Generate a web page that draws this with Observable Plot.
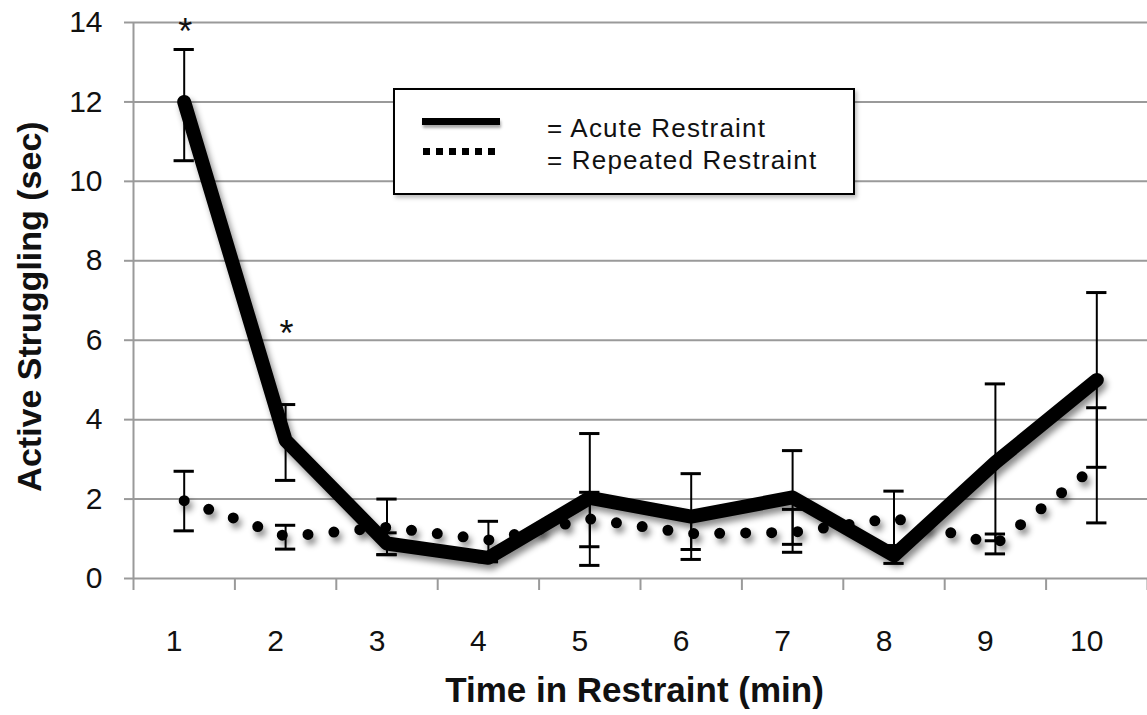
<!DOCTYPE html>
<html><head><meta charset="utf-8">
<script src="https://cdn.jsdelivr.net/npm/d3@7"></script>
<script src="https://cdn.jsdelivr.net/npm/@observablehq/plot@0.6"></script>
<style>
body{margin:0;background:#fff;}
#wrap{position:relative;width:1147px;height:715px;font-family:"Liberation Sans",Arial,sans-serif;}
#legend{position:absolute;left:393px;top:88px;width:458px;height:103px;border:2px solid #000;background:#fff;box-shadow:2px 3px 4px rgba(0,0,0,0.25);}
#legend .solid{position:absolute;left:27px;top:28px;width:78px;height:7px;background:#000;box-shadow:1px 3px 3px rgba(0,0,0,0.35);}
#legend .dots{position:absolute;left:28px;top:58px;width:74px;height:7px;background:repeating-linear-gradient(90deg,#000 0 7px,transparent 7px 13px);}
#legend .txt{position:absolute;left:152px;top:22px;font-size:26px;letter-spacing:1.2px;line-height:32px;color:#111;white-space:nowrap;}
</style></head>
<body>
<div id="wrap"><div id="chart"></div>
<div id="legend"><div class="solid"></div><div class="dots"></div>
<div class="txt"><div id="l1"></div><div id="l2"></div></div></div>
</div>
<script>
const minutes = [1,2,3,4,5,6,7,8,9,10];
const acute = [12.0,3.48,0.88,0.52,2.03,1.56,2.04,0.58,2.92,5.0];
const acuteLow = [10.52,2.47,0.6,0.42,0.33,0.48,0.86,0.38,0.95,2.8];
const acuteHigh = [13.32,4.38,1.15,0.62,3.65,2.64,3.22,0.8,4.9,7.2];
const repeated = [1.96,1.06,1.29,0.97,1.5,1.13,1.16,1.52,0.86,2.85];
const repeatedLow = [1.2,0.74,0.6,0.45,0.8,0.73,0.66,0.83,0.62,1.4];
const repeatedHigh = [2.7,1.34,2.0,1.44,2.17,1.52,1.74,2.2,1.12,4.3];
const yTicks = [0,2,4,6,8,10,12,14];
const starMinutes = [1,2];
const starValues = [13.75,6.15];
const seriesNames = ["= Acute Restraint","= Repeated Restraint"];
const xTitle = "Time in Restraint (min)";
const yTitle = "Active Struggling (sec)";

document.getElementById("l1").textContent = seriesNames[0];
document.getElementById("l2").textContent = seriesNames[1];

const acuteRows = minutes.map((m,i)=>({m, v:acute[i], lo:acuteLow[i], hi:acuteHigh[i]}));
const repRows = minutes.map((m,i)=>({m, v:repeated[i], lo:repeatedLow[i], hi:repeatedHigh[i]}));
const errRows = acuteRows.concat(repRows);
const caps = errRows.flatMap(d=>[{m:d.m, y:d.lo},{m:d.m, y:d.hi}]);
const stars = starMinutes.map((m,i)=>({m, v:starValues[i]}));
const bounds = d3.range(0, minutes.length+1).map(i=>minutes[0]-0.5+i);
const gray = "#9a9a9a";
const capHalf = 0.1;

const plot = Plot.plot({
  width: 1147, height: 715,
  marginLeft: 133, marginRight: 0, marginTop: 22, marginBottom: 137,
  style: {fontFamily: '"Liberation Sans", Arial, sans-serif', color: "#111", background: "#fff"},
  x: {domain: [minutes[0]-0.5, minutes[minutes.length-1]+0.5]},
  y: {domain: [0,14]},
  marks: [
    Plot.gridY(yTicks.slice(1), {stroke: gray, strokeOpacity: 1, strokeWidth: 2}),
    Plot.axisY(yTicks, {tickSize: 9, tickPadding: 22, fontSize: 30, stroke: gray, strokeWidth: 2, label: null}),
    Plot.ruleX([minutes[0]-0.5], {stroke: gray, strokeWidth: 2}),
    Plot.ruleY([0], {stroke: gray, strokeWidth: 2}),
    Plot.axisX(bounds, {tickSize: 12, tickFormat: () => "", stroke: gray, strokeWidth: 2, label: null}),
    Plot.axisX(minutes, {tickSize: 0, tickPadding: 51, fontSize: 30, dx: -10, label: null}),
    Plot.line(repRows, {x: "m", y: "v", stroke: "#000", strokeWidth: 11, strokeLinecap: "round", strokeDasharray: "0 26"}),
    Plot.line(acuteRows, {x: "m", y: "v", stroke: "#000", strokeWidth: 14, strokeLinejoin: "round", strokeLinecap: "round"}),
    Plot.ruleX(errRows, {x: "m", y1: "lo", y2: "hi", stroke: "#000", strokeWidth: 2}),
    Plot.ruleY(caps, {y: "y", x1: d => d.m - capHalf, x2: d => d.m + capHalf, stroke: "#000", strokeWidth: 3}),
    Plot.text(stars, {x: "m", y: "v", text: () => "*", fontSize: 36, fill: "#111", dx: 1}),
    Plot.text([xTitle], {frameAnchor: "bottom", textAnchor: "middle", lineAnchor: "middle", dx: -6, dy: 112, fontSize: 35, fontWeight: "bold", fill: "#111"}),
    Plot.text([yTitle], {frameAnchor: "left", textAnchor: "middle", lineAnchor: "middle", dx: -103, dy: 6, rotate: -90, fontSize: 34, fontWeight: "bold", fill: "#111"})
  ]
});
document.getElementById("chart").appendChild(plot);
d3.select(plot).selectAll('g[aria-label="line"]').style("filter", "drop-shadow(3px 5px 3px rgba(0,0,0,0.45))");
</script>
</body></html>
